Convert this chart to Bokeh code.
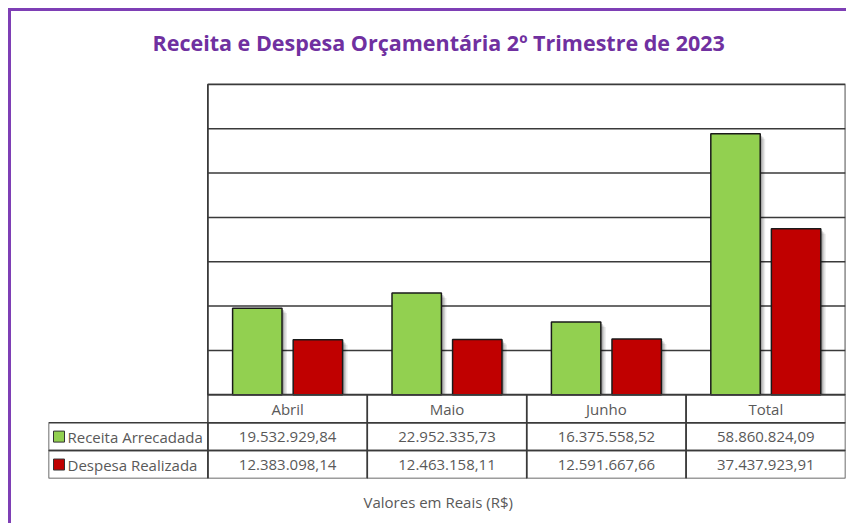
from bokeh.plotting import figure
from bokeh.models import FactorRange, Range1d, ColumnDataSource, Title
from bokeh.transform import dodge
from bokeh.core.properties import value
from bokeh.embed import file_html
from bokeh.resources import INLINE

# ---------------- data ----------------
meses = ["Abril", "Maio", "Junho", "Total"]
receita = [19532929.84, 22952335.73, 16375558.52, 58860824.09]
despesa = [12383098.14, 12463158.11, 12591667.66, 37437923.91]
series = ["Receita Arrecadada", "Despesa Realizada"]
cores = ["#92D050", "#C00000"]
titulo = "Receita e Despesa Orçamentária 2º Trimestre de 2023"
rodape = "Valores em Reais (R$)"
grade = [10e6, 20e6, 30e6, 40e6, 50e6, 60e6]
y_max = 70e6


def br(v):
    s = f"{v:,.2f}"
    return s.replace(",", "X").replace(".", ",").replace("X", ".")


receita_txt = [br(v) for v in receita]
despesa_txt = [br(v) for v in despesa]

# ---------------- layout constants ----------------
PLOT_PX = 311.0          # pixel height of the bar area
ROW_PX = 28.0            # pixel height of a table row
TOP_PAD_PX = 22.0        # empty frame space above the bar area
ROW = ROW_PX * y_max / PLOT_PX
CAT_PX = 797.0 / 5
LEG = "leg"
FONT = value("Open Sans")
TXT = "#595959"
LINE = "#3a3a3a"

W, H = 838, 515
p = figure(x_range=FactorRange(factors=[LEG] + meses),
           y_range=Range1d(-3 * ROW, y_max + TOP_PAD_PX * y_max / PLOT_PX),
           width=W, height=H, output_backend="svg", toolbar_location=None,
           x_axis_location=None, y_axis_location=None,
           min_border_left=37, min_border_right=4,
           min_border_top=51, min_border_bottom=47)
p.grid.visible = False
p.outline_line_color = None
p.background_fill_color = "white"
p.border_fill_color = "white"
p.styles = {"border-top": "3px solid #7E3FB5", "border-left": "3px solid #7E3FB5",
            "margin-top": "8px", "margin-left": "8px"}

# title
p.title.text = titulo
p.title.text_font = "Open Sans"
p.title.text_font_style = "bold"
p.title.text_font_size = "21.5px"
p.title.text_color = "#7030A0"
p.title.align = "left"
p.title.offset = 104
p.title.standoff = 11

foot = Title(text=rodape, align="left", vertical_align="top", offset=315,
             text_font="Open Sans", text_font_size="15px", text_font_style="normal",
             text_color=TXT, standoff=26)
p.add_layout(foot, "below")

# gridlines & plot box
gsrc = ColumnDataSource(dict(x0=[("Abril", -0.5)] * len(grade),
                             x1=[("Total", 0.5)] * len(grade), y=grade))
p.segment(x0="x0", x1="x1", y0="y", y1="y", source=gsrc, line_color=LINE, line_width=1.5)
p.quad(left=[("Abril", -0.5)], right=[("Total", 0.5)], bottom=[0], top=[y_max],
       fill_color=None, line_color=LINE, line_width=1.8)

# bars
src = ColumnDataSource(dict(meses=meses, receita=receita, despesa=despesa))
OFF = 0.19
BW = 0.31
for vals, off, cor in (("receita", -OFF, cores[0]), ("despesa", OFF, cores[1])):
    data = src.data[vals]
    for dpx, alpha in ((5, 0.08), (3.5, 0.12), (2, 0.18)):
        dy = dpx * y_max / PLOT_PX
        shsrc = ColumnDataSource(dict(meses=meses, top=[v - dy for v in data]))
        p.vbar(x=dodge("meses", off + dpx / CAT_PX, range=p.x_range), top="top", bottom=0,
               width=BW, source=shsrc, fill_color="black", fill_alpha=alpha, line_color=None)
    p.vbar(x=dodge("meses", off, range=p.x_range), top=vals, bottom=0, width=BW, source=src,
           fill_color=cor, line_color="#1a1a1a", line_width=1.5)

# table cells
cx, cy = [], []
for m in meses:
    cx.append(m); cy.append(-0.5 * ROW)
for r in (1.5, 2.5):
    for m in [LEG] + meses:
        cx.append(m); cy.append(-r * ROW)
p.rect(x=cx, y=cy, width=1, height=ROW, fill_color=None, line_color=LINE, line_width=1.5)

# header & values
p.text(x=meses, y=[-0.5 * ROW] * 4, text=meses, text_font=FONT, text_font_size="15px",
       text_color=TXT, text_align="center", text_baseline="middle")
p.text(x=meses, y=[-1.5 * ROW] * 4, text=receita_txt, text_font=FONT, text_font_size="15px",
       text_color=TXT, text_align="center", text_baseline="middle")
p.text(x=meses, y=[-2.5 * ROW] * 4, text=despesa_txt, text_font=FONT, text_font_size="15px",
       text_color=TXT, text_align="center", text_baseline="middle")

# legend swatches and labels
sw_off = (58.5 - 48 - CAT_PX / 2) / CAT_PX
tx_off = (67 - 48 - CAT_PX / 2) / CAT_PX
p.rect(x=[(LEG, sw_off)] * 2, y=[-1.5 * ROW, -2.5 * ROW], width=11, height=11,
       width_units="screen", height_units="screen", fill_color=cores,
       line_color="#333333", line_width=1)
p.text(x=[(LEG, tx_off)] * 2, y=[-1.5 * ROW, -2.5 * ROW], text=series, text_font=FONT,
       text_font_size="15px", text_color=TXT, text_align="left", text_baseline="middle")

open("out.html", "w").write(file_html(p, INLINE))
